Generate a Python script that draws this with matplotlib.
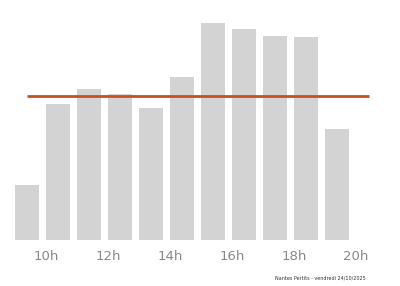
import matplotlib
matplotlib.use("Agg")
import matplotlib.pyplot as plt

hours = [9, 10, 11, 12, 13, 14, 15, 16, 17, 18, 19]
values = [55, 136, 151, 146, 132, 163, 217, 211, 204, 203, 111]
reference_level = 144
tick_hours = [10, 12, 14, 16, 18, 20]
tick_labels = ["10h", "12h", "14h", "16h", "18h", "20h"]
footer = "Nantes Pertits - vendredi 24/10/2025"

fig = plt.figure(figsize=(4.0, 2.86), dpi=100)
ax = fig.add_axes([0, 46 / 286, 1, 240 / 286])
ax.bar(hours, values, width=0.78, align="edge", color="#d3d3d3", zorder=1)
ax.hlines(reference_level, 9.39, 20.42, color="#c8501e", linewidth=2, zorder=2)
ax.set_xlim(9 - 15 / 31, 9 - 15 / 31 + 400 / 31)
ax.set_ylim(0, 240)
ax.set_xticks(tick_hours)
ax.set_xticklabels(tick_labels, color="#888888", fontsize=9.5)
ax.tick_params(axis="x", length=0, pad=7)
ax.set_yticks([])
for s in ax.spines.values():
    s.set_visible(False)
fig.text(275 / 400, 1 - 278 / 286, footer, fontsize=3.5, color="#333333", va="center", ha="left")
fig.savefig("out.png", dpi=100)
